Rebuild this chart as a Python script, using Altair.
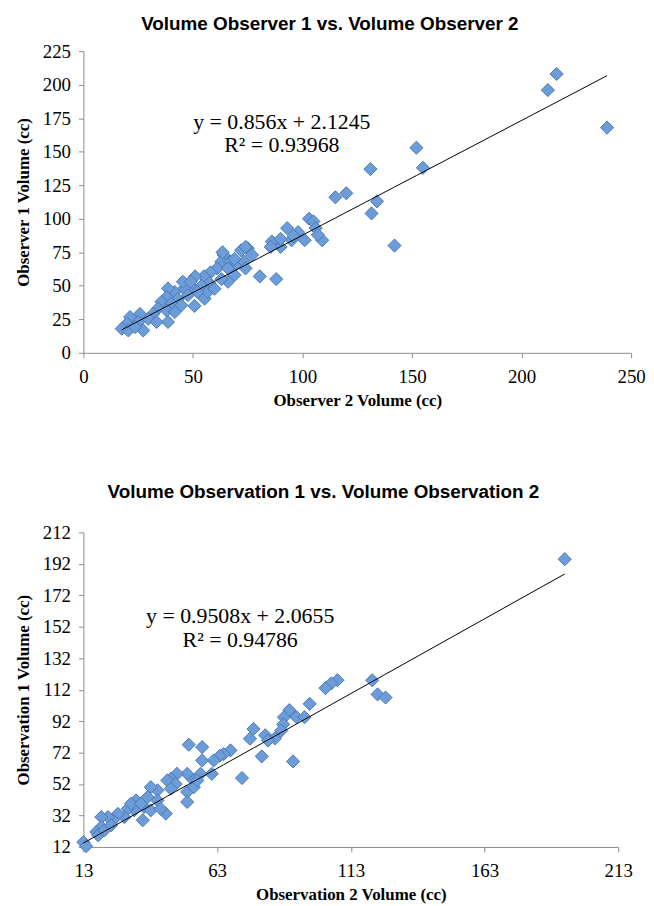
import altair as alt
import pandas as pd

# ---------------- data ----------------
top_x = [216, 212, 239, 152, 155, 131, 115, 120, 134, 131.5, 142, 88, 93, 103, 105, 109, 101, 95, 90, 86, 98, 106, 107,
         96, 90, 85.5, 80.5,
         75, 72, 77, 64, 63, 67, 61, 66, 70, 73.4, 74, 69, 66, 63, 58, 55, 57.5, 54, 51, 50, 46, 45.4, 41.7, 43, 47.7,
         50.7, 38.6, 38, 35.6, 40, 44.7, 34, 31.8, 38, 41.7, 38.6, 29.6, 25.8, 25, 21.3, 19.8, 17.5, 20.5, 27.3, 33.4,
         23.6, 55.3, 56.7, 59.8, 49, 52, 63.5, 74, 69]
top_y = [208, 196, 168, 153, 138, 137, 116, 119, 113, 104, 80, 55, 93, 100, 98, 84, 84, 84, 79, 83, 90, 93, 88,
         87, 85, 79, 57,
         78, 76.5, 73, 73, 68, 68, 63, 63, 66.5, 68, 63, 58, 53, 55, 60, 57, 52, 50, 57, 48, 48, 53, 45.4, 40, 43,
         35, 48, 41.6, 38, 36.6, 35.4, 33, 29, 31.6, 30.4, 23, 25.4, 29, 23, 26.7, 21.7, 18, 16.7, 16.7, 23,
         19.2, 40.4, 45.4, 47.8, 53, 45.4, 75, 79, 70]

bot_x = [193, 108, 105.7, 103.5, 121, 123, 126, 97.6, 90, 88, 92.7, 95.7, 87.7, 87, 76.6, 81, 84.6,
         91.4, 75.3, 82, 79.7, 72.3, 68, 65.4, 64, 61.7, 61, 57.4, 52.4, 57.4, 56.8, 54.3, 51.8, 48, 45.7, 44.4,
         47.5, 51.8, 51.8, 54.3, 55.6, 43.8, 40.7, 38.2, 37, 40.7, 35.7, 32.7, 32, 35.2, 38.2, 41.9, 29.6, 28.3,
         25.9, 24, 22.2, 19.7, 19.7, 17.8, 18.5, 20.9, 23.4, 13, 14, 30.8, 34.5, 45.7]
bot_y = [195, 118, 116, 113, 118, 109, 107, 103, 99, 94.5, 94.5, 94.5, 90, 86, 87, 83, 81,
         66.4, 80.8, 79.7, 69.6, 55.8, 73.4, 71, 70, 67, 58.5, 67, 77, 75.5, 58.5, 54.3, 58.5, 58.5, 55.4, 54.3,
         52, 47, 40.6, 50, 54.3, 33.2, 48, 50, 43.7, 41.6, 37.4, 41.6, 35.3, 29, 35.3, 36.3, 36.3, 31,
         33, 29, 31, 31, 24.7, 21.5, 19.4, 22.6, 25.8, 15, 12.5, 39.5, 39.5, 49]

top_slope, top_intercept = 0.856, 2.1245
bot_slope, bot_intercept = 0.9508, 2.0655

top_eq = "y = 0.856x + 2.1245\nR² = 0.93968"
bot_eq = "y = 0.9508x + 2.0655\nR² = 0.94786"

top_title = "Volume Observer 1 vs. Volume Observer 2"
bot_title = "Volume Observation 1 vs. Volume Observation 2"
top_xtitle, top_ytitle = "Observer 2 Volume (cc)", "Observer 1 Volume (cc)"
bot_xtitle, bot_ytitle = "Observation 2 Volume (cc)", "Observation 1 Volume (cc)"

top_xticks = [0, 50, 100, 150, 200, 250]
top_yticks = [0, 25, 50, 75, 100, 125, 150, 175, 200, 225]
bot_xticks = [13, 63, 113, 163, 213]
bot_yticks = [12, 32, 52, 72, 92, 112, 132, 152, 172, 192, 212]

FILL = "#6d9dd8"
STROKE = "#4a79b5"


def panel(xs, ys, slope, intercept, eq, title, xtitle, ytitle, xticks, yticks,
          w, h, eq_x, eq_y, title_offset):
    df = pd.DataFrame({"x": xs, "y": ys})
    xs_ = alt.Scale(domain=[xticks[0], xticks[-1]], nice=False, zero=False)
    ys_ = alt.Scale(domain=[yticks[0], yticks[-1]], nice=False, zero=False)
    xaxis = alt.Axis(values=xticks, title=xtitle, grid=False, labelFlush=False,
                     labelOverlap=False, labelPadding=10, titlePadding=6, tickSize=5)
    yaxis = alt.Axis(values=yticks, title=ytitle, grid=False, labelPadding=8,
                     labelOverlap=False, titlePadding=10, tickSize=5)
    pts = alt.Chart(df).mark_point(shape="diamond", filled=True, size=175, fill=FILL,
                                   stroke=STROKE, strokeWidth=1, opacity=1).encode(
        x=alt.X("x:Q", scale=xs_, axis=xaxis), y=alt.Y("y:Q", scale=ys_, axis=yaxis))
    line = alt.Chart(df).transform_calculate(
        fit=f"{slope}*datum.x + {intercept}"
    ).mark_line(color="black", strokeWidth=1).encode(
        x=alt.X("x:Q", scale=xs_, axis=xaxis), y=alt.Y("fit:Q", scale=ys_, axis=yaxis))
    txt = alt.Chart(pd.DataFrame({"t": [eq]})).mark_text(
        font="Liberation Serif", fontSize=22, align="center", baseline="middle",
        lineBreak="\n", lineHeight=24, color="black"
    ).encode(text="t:N", x=alt.value(eq_x), y=alt.value(eq_y))
    return alt.layer(pts, line, txt).properties(
        width=w, height=h,
        title=alt.TitleParams(title, offset=title_offset))


top = panel(top_x, top_y, top_slope, top_intercept, top_eq, top_title, top_xtitle, top_ytitle,
            top_xticks, top_yticks, 552, 304, 200, 71, 8)
bot = panel(bot_x, bot_y, bot_slope, bot_intercept, bot_eq, bot_title, bot_xtitle, bot_ytitle,
            bot_xticks, bot_yticks, 539, 317, 158, 84, 22)

chart = alt.vconcat(top, bot, spacing=75).properties(
    padding={"left": 6, "top": 4, "right": 0, "bottom": 0}
).configure_view(stroke=None).configure_axis(
    domainColor="#8c8c8c", tickColor="#8c8c8c", labelFont="Liberation Serif",
    labelFontSize=19, labelColor="black", titleFont="Liberation Serif", titleFontSize=17,
    titleFontWeight="bold", titleColor="black"
).configure_title(
    font="Liberation Sans", fontSize=19, fontWeight="bold", anchor="middle", frame="bounds",
    color="black"
)

chart.save("out.html", embed_options={"renderer": "svg", "actions": False})
